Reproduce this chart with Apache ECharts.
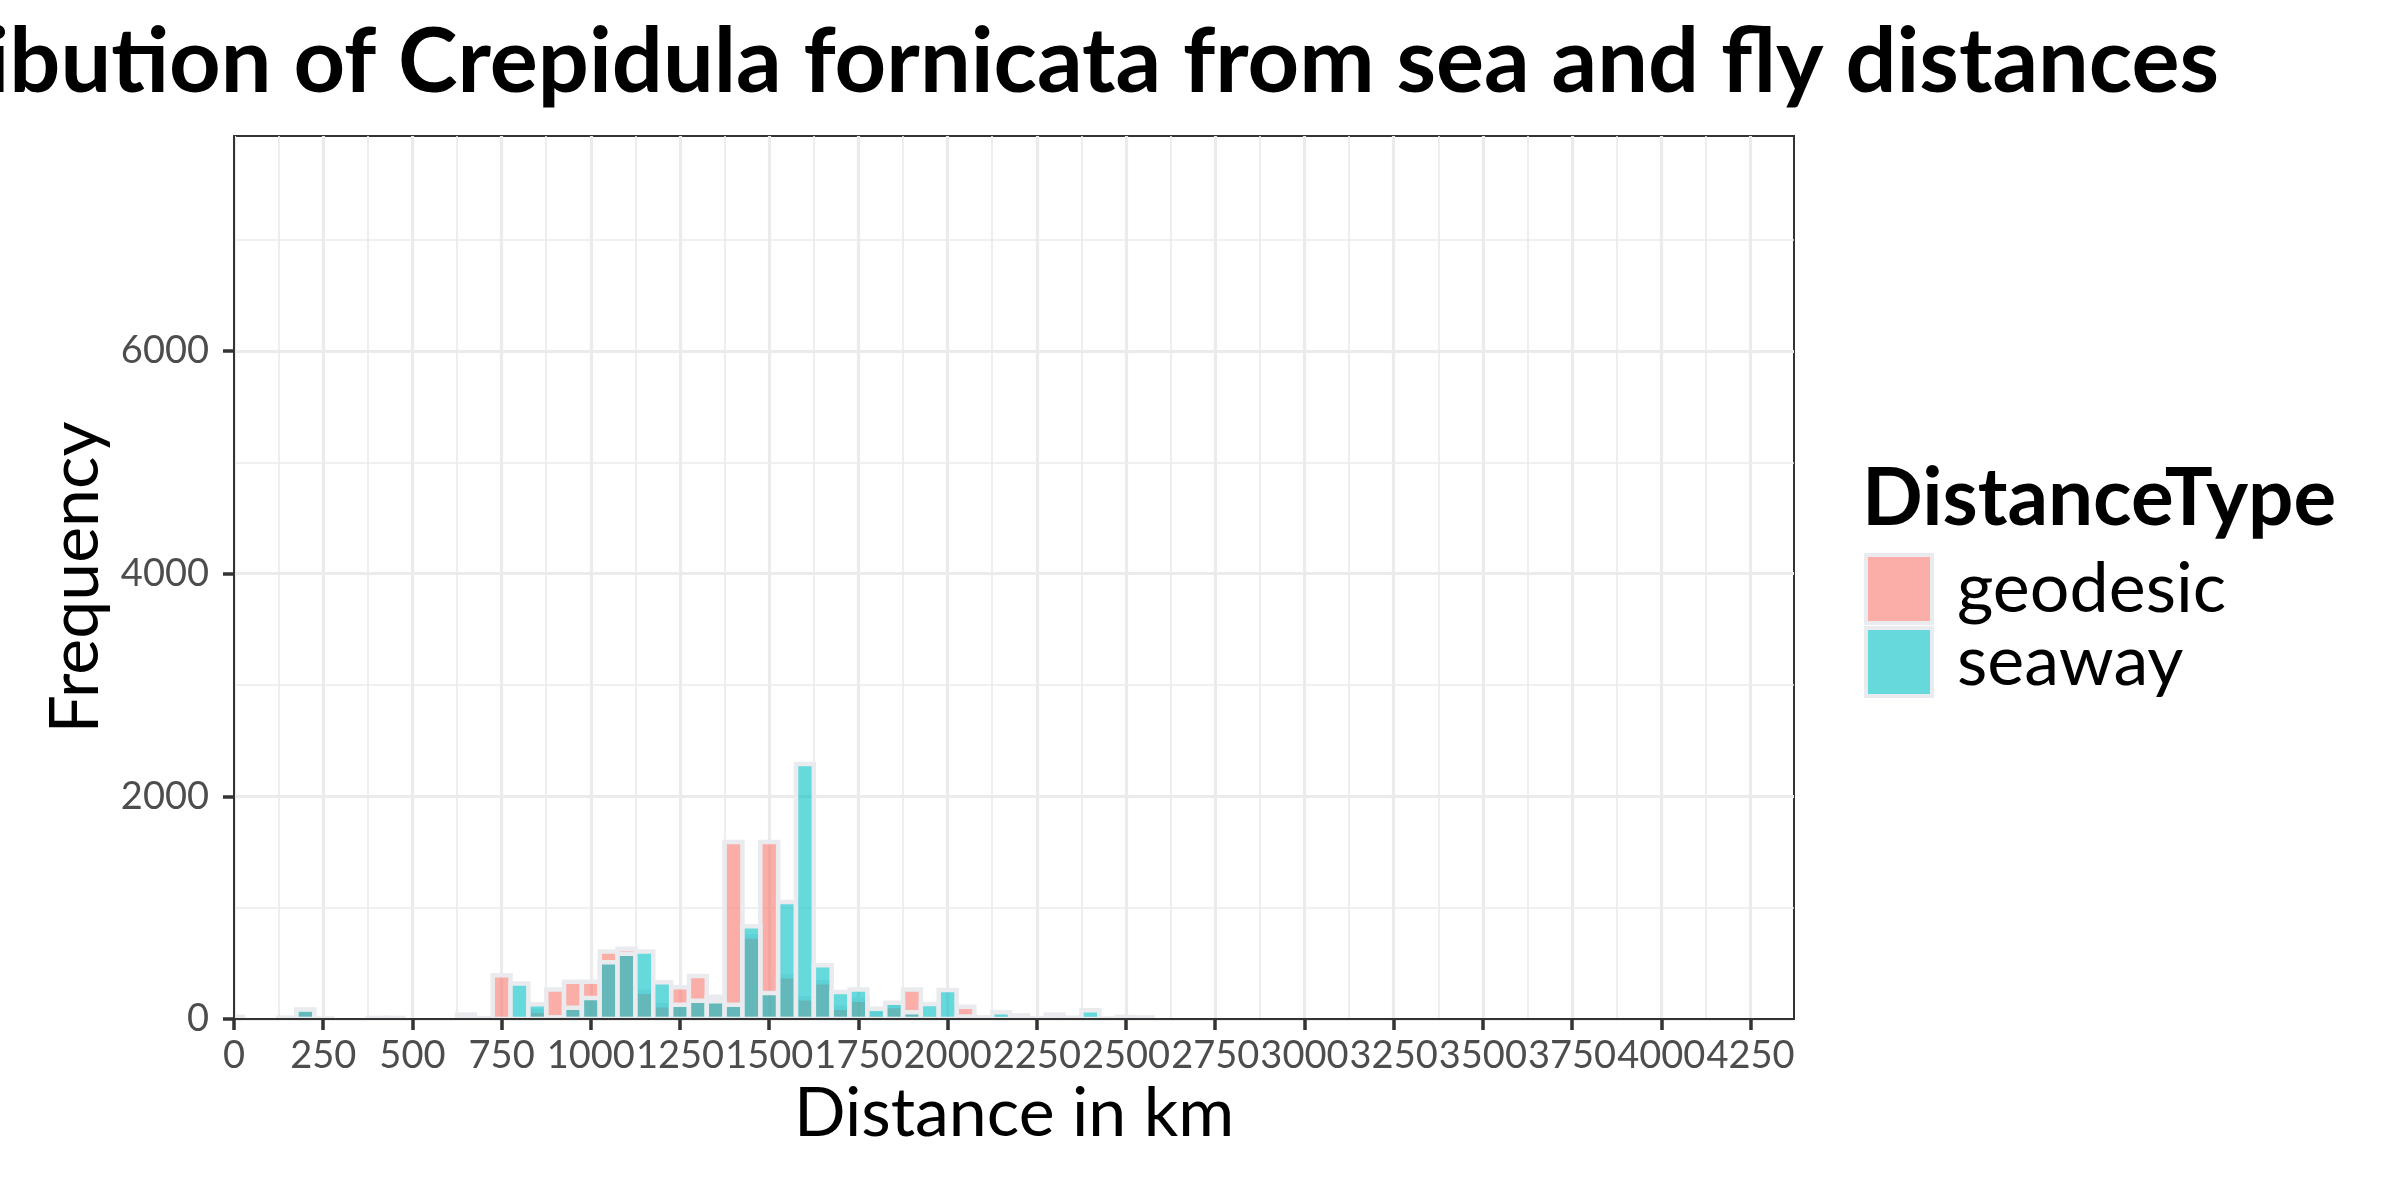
<!DOCTYPE html>
<html>
<head>
<meta charset="utf-8">
<style>html,body{margin:0;padding:0;background:#fff}#c{width:2400px;height:1200px}</style>
<script src="https://cdn.jsdelivr.net/npm/echarts@6/dist/echarts.min.js"></script>
</head>
<body>
<div id="c"></div>
<script>
// ---- data (bin centres in km, counts per 50 km bin) ----
const binWidth = 50;
const bins = [0,50,100,150,200,250,300,350,400,450,500,550,600,650,700,750,800,850,900,950,
  1000,1050,1100,1150,1200,1250,1300,1350,1400,1450,1500,1550,1600,1650,1700,1750,1800,1850,1900,1950,
  2000,2050,2100,2150,2200,2250,2300,2350,2400,2450,2500,2550];
const geodesic = [20,0,0,12,80,5,0,0,10,10,0,0,0,40,8,392,0,74,266,335,
  335,607,631,245,123,285,386,200,1590,742,1590,383,186,330,102,174,45,117,266,5,
  0,109,15,10,10,4,40,12,5,4,18,14];
const seaway = [0,0,0,8,85,0,0,0,0,0,0,0,0,0,3,0,318,132,15,102,
  188,509,587,607,329,129,165,159,129,833,233,1051,2290,482,242,266,93,147,60,135,
  261,22,15,60,33,4,5,5,78,0,10,5];
const seriesNames = ['geodesic','seaway'];
const seriesColors = ['rgba(248,118,109,0.6)','rgba(0,191,196,0.6)'];
const xTicks = [0,250,500,750,1000,1250,1500,1750,2000,2250,2500,2750,3000,3250,3500,3750,4000,4250];
const yTicks = [0,2000,4000,6000];
const xMax = 4372, yMax = 7930;

const FONT = 'Lato';
const outline = '#E9EBEE';
const grid = {left:234, top:136, width:1560, height:883};
const xMinor = xTicks.map(v => v + 125);
const yMinor = yTicks.map(v => v + 1000);
const toPairs = arr => bins.map((b,i) => [b, arr[i]]).filter(p => p[1] > 0);

const chart = echarts.init(document.getElementById('c'), null, {renderer:'canvas'});
const gridCol = '#EBEBEB';
const baseX = {type:'value', min:0, max:xMax, interval:250, gridIndex:0, position:'bottom'};
const baseY = {type:'value', min:0, max:yMax, interval:2000, gridIndex:0, position:'left'};
const off = {show:false};
const plain = v => String(v);

function histRect(params, api) {
  const x = api.value(0), y = api.value(1);
  const p0 = api.coord([x - binWidth / 2, y]);
  const p1 = api.coord([x + binWidth / 2, 0]);
  return {
    type:'rect',
    shape:{x:p0[0], y:p0[1], width:p1[0] - p0[0], height:p1[1] - p0[1]},
    style:{fill:api.visual('color'), stroke:outline, lineWidth:4.5}
  };
}

chart.setOption({
  animation:false,
  backgroundColor:'#fff',
  title:[
    {text:'Distribution of Crepidula fornicata from sea and fly distances', right:181, top:18, padding:0,
     textStyle:{fontFamily:FONT, fontSize:90, fontWeight:'bold', color:'#000'}},
    {text:'DistanceType', left:1862, top:459, padding:0,
     textStyle:{fontFamily:FONT, fontSize:80, fontWeight:'bold', color:'#000'}}
  ],
  legend:{
    orient:'vertical', left:1864, top:553, itemWidth:66, itemHeight:68, itemGap:1, padding:0,
    icon:'rect', data:seriesNames,
    itemStyle:{borderColor:outline, borderWidth:4},
    textStyle:{fontFamily:FONT, fontSize:70, color:'#000', lineHeight:68, padding:[0,0,0,20]}
  },
  grid:{left:grid.left, top:grid.top, width:grid.width, height:grid.height, show:true,
        borderColor:'#333333', borderWidth:2, backgroundColor:'#fff'},
  xAxis:[
    Object.assign({}, baseX, {
      name:'Distance in km', nameLocation:'middle', nameGap:59,
      nameTextStyle:{fontFamily:FONT, fontSize:68, color:'#000'},
      axisLine:{show:false, onZero:false},
      axisTick:{show:true, length:11, customValues:xTicks, lineStyle:{color:'#333333', width:3.5}},
      axisLabel:{show:true, customValues:xTicks, formatter:plain, showMinLabel:true, showMaxLabel:true,
                 margin:18, fontFamily:FONT, fontSize:38, color:'#4D4D4D'},
      splitLine:{show:true, lineStyle:{color:gridCol, width:3.2}}
    }),
    Object.assign({}, baseX, {
      axisLine:{show:false, onZero:false}, axisTick:{show:false, customValues:xMinor},
      axisLabel:off, splitLine:{show:true, lineStyle:{color:gridCol, width:1.7}}
    }),
    Object.assign({}, baseX, {
      z:10, axisLine:{show:true, onZero:false, lineStyle:{color:'#333333', width:2}},
      axisTick:off, axisLabel:off, splitLine:off
    })
  ],
  yAxis:[
    Object.assign({}, baseY, {
      name:'Frequency', nameLocation:'middle', nameGap:118,
      nameTextStyle:{fontFamily:FONT, fontSize:68, color:'#000'},
      axisLine:{show:false, onZero:false},
      axisTick:{show:true, length:11, customValues:yTicks, lineStyle:{color:'#333333', width:3.5}},
      axisLabel:{show:true, customValues:yTicks, formatter:plain, showMinLabel:true, showMaxLabel:true,
                 margin:25, fontFamily:FONT, fontSize:38, color:'#4D4D4D'},
      splitLine:{show:true, lineStyle:{color:gridCol, width:3.2}}
    }),
    Object.assign({}, baseY, {
      axisLine:{show:false, onZero:false}, axisTick:{show:false, customValues:yMinor},
      axisLabel:off, splitLine:{show:true, lineStyle:{color:gridCol, width:1.7}}
    }),
    Object.assign({}, baseY, {
      z:10, axisLine:{show:true, onZero:false, lineStyle:{color:'#333333', width:2}},
      axisTick:off, axisLabel:off, splitLine:off
    })
  ],
  series:[geodesic, seaway].map((vals, k) => ({
    name:seriesNames[k], type:'custom', xAxisIndex:0, yAxisIndex:0, clip:true, z:2 + k,
    data:toPairs(vals), encode:{x:0, y:1},
    itemStyle:{color:seriesColors[k]},
    renderItem:histRect
  }))
});
</script>
</body>
</html>
